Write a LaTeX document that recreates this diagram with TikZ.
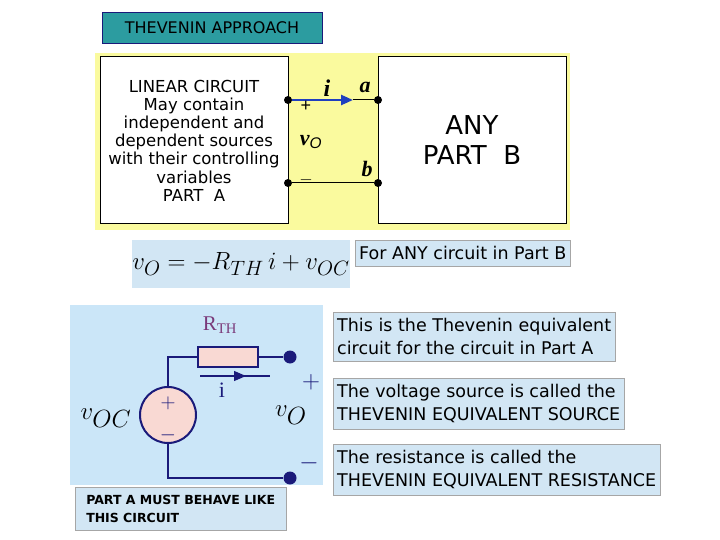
\documentclass[tikz,border=0pt]{standalone}
\usepackage{fontspec}
\setmainfont{Liberation Sans}
\newfontfamily\verd{DejaVu Sans}
\newfontfamily\tms{Liberation Serif}
\usetikzlibrary{arrows.meta}
\definecolor{teal1}{HTML}{2C9CA0}
\definecolor{yel}{HTML}{FAFA9E}
\definecolor{lb}{HTML}{CBE6F8}
\definecolor{lb2}{HTML}{D2E6F4}
\definecolor{navy}{HTML}{1A1A7A}
\definecolor{pinkf}{HTML}{F9D9D3}
\definecolor{purp}{HTML}{7A3A7A}
\definecolor{arrb}{HTML}{1F3FBF}
\begin{document}
\begin{tikzpicture}[x=1pt,y=-1pt,
  txtbox/.style={draw=gray!70,fill=lb2,anchor=north west,inner xsep=4pt,inner ysep=6pt,align=left,font=\verd\fontsize{17.5}{23}\selectfont},
  dot/.style={circle,fill=black,inner sep=0pt,minimum size=8pt},
  bdot/.style={circle,fill=navy,inner sep=0pt,minimum size=13pt},
  wire/.style={navy,line width=2pt}]
\useasboundingbox[fill=white] (0,0) rectangle (720,540);
\node[draw=navy,fill=teal1,minimum width=220pt,minimum height=31pt,font=\verd\fontsize{16}{18}\selectfont] (title) at (212,27.5) {THEVENIN APPROACH};
\fill[yel] (95,53) rectangle (570,230);
\node[draw,fill=white,line width=1pt,minimum width=188pt,minimum height=167pt,align=center,font=\verd\fontsize{16.5}{18.2}\selectfont,inner sep=0pt] (pa) at (194,140.5) {LINEAR CIRCUIT\\May contain\\independent and\\dependent sources\\with their controlling\\variables\\PART\ \ A};
\node[draw,fill=white,line width=1pt,minimum width=188pt,minimum height=167pt,align=center,font=\verd\fontsize{26}{30}\selectfont] (pb) at (472,140.5) {ANY\\PART\ \ B};
\node[dot] (l1) at (288,100) {};
\node[dot] (a) at (378,100) {};
\node[dot] (l2) at (288,183) {};
\node[dot] (b) at (378,183) {};
\coordinate (am) at (353,100);
\draw[arrb,line width=2.5pt,-{Triangle[length=12pt,width=10pt]}] (l1) -- (am);
\draw[line width=1pt] (am) -- (a);
\draw[line width=1pt] (l2) -- (b);
\node[font=\tms\bfseries\itshape\fontsize{24}{24}\selectfont] (il) at (327,88) {i};
\node[font=\tms\bfseries\itshape\fontsize{22}{22}\selectfont] (al) at (365,87) {a};
\node[font=\tms\bfseries\itshape\fontsize{22}{22}\selectfont] (bl) at (367,169) {b};
\node[font=\fontsize{18}{18}\selectfont] (pl) at (306,106) {+};
\node[font=\fontsize{18}{18}\selectfont] (ml) at (306,180) {$-$};
\node[font=\tms\bfseries\itshape\fontsize{22}{22}\selectfont] (vo) at (311,142) {v\textsubscript{\normalfont\itshape O}};
\node[fill=lb2,minimum width=218pt,minimum height=48pt,font=\fontsize{29}{29}\selectfont,inner sep=0pt] (eq) at (241,264) {$v_O=-R_{TH}\,i+v_{OC}$};
\node[txtbox] (for) at (355,240) {For ANY circuit in Part B};
\fill[lb] (70,305) rectangle (323,485);
\node[font=\tms\fontsize{21}{21}\selectfont,text=purp] (rth) at (220,325) {R\textsubscript{TH}};
\node[draw=navy,line width=2pt,fill=pinkf,minimum width=60pt,minimum height=20pt,inner sep=0pt] (res) at (228,357) {};
\node[draw=navy,line width=2pt,fill=pinkf,circle,minimum size=56pt,inner sep=0pt] (src) at (168,415) {};
\node[bdot] (t1) at (290,357) {};
\node[bdot] (t2) at (290,478) {};
\draw[wire] (src.north) |- (res.west);
\draw[wire] (res.east) -- (t1);
\draw[wire] (src.south) |- (t2);
\node[font=\fontsize{20}{20}\selectfont,text=navy] at (168,403) {$+$};
\node[font=\fontsize{20}{20}\selectfont,text=navy] at (168,435) {$-$};
\coordinate (c1) at (200,376); \coordinate (c2) at (270,376); \coordinate (c3) at (246,376);
\draw[navy,line width=1.2pt] (c1) -- (c2);
\draw[navy,line width=1.2pt,-{Triangle[length=12pt,width=10pt]}] (c1) -- (c3);
\node[font=\tms\fontsize{22}{22}\selectfont,text=navy] (ci) at (222,390) {i};
\node[font=\fontsize{28}{28}\selectfont,text=navy] at (311,382) {$+$};
\node[font=\fontsize{28}{28}\selectfont,text=navy] at (309,463) {$-$};
\node[font=\fontsize{42}{42}\selectfont] (voc) at (106,418) {$v_{OC}$};
\node[font=\fontsize{36}{36}\selectfont] (vo2) at (291,415) {$v_{O}$};
\node[draw=gray!70,fill=lb2,anchor=north west,minimum width=211pt,minimum height=41pt,align=left,font=\verd\bfseries\fontsize{12.5}{18}\selectfont,inner sep=8pt] (must) at (75,487) {PART A MUST BEHAVE LIKE\\THIS CIRCUIT};
\node[txtbox] (t1b) at (333,312) {This is the Thevenin equivalent\\circuit for the circuit in Part A};
\node[txtbox] (t2b) at (333,378) {The voltage source is called the\\THEVENIN EQUIVALENT SOURCE};
\node[txtbox] (t3b) at (333,444) {The resistance is called the\\THEVENIN EQUIVALENT RESISTANCE};
\end{tikzpicture}
\end{document}
